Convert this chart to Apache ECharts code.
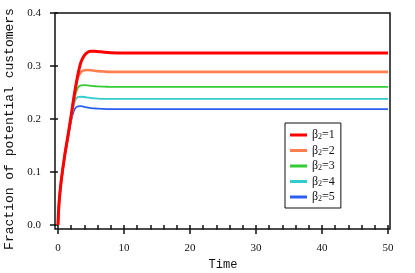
<!DOCTYPE html>
<html><head><meta charset="utf-8">
<script src="https://cdn.jsdelivr.net/npm/echarts@6/dist/echarts.min.js"></script>
<style>html,body{margin:0;padding:0;background:#fff}#c{width:415px;height:273px}</style>
</head><body><div id="c"></div>
<script>
const timeX = [0,0.1,0.25,0.5,1,1.5,2,2.5,3,3.5,4,4.5,5,5.5,6,7,8,10,15,20,30,40,50];
const beta1 = [0,0.03,0.055,0.085,0.13,0.168,0.207,0.248,0.283,0.308,0.320,0.326,0.328,0.328,0.3275,0.326,0.325,0.3245,0.3245,0.3245,0.3245,0.3245,0.3245];
const beta2 = [0,0.03,0.055,0.085,0.13,0.167,0.205,0.245,0.278,0.289,0.292,0.2925,0.292,0.291,0.2903,0.2895,0.289,0.289,0.289,0.289,0.289,0.289,0.289];
const beta3 = [0,0.029,0.054,0.084,0.129,0.166,0.203,0.240,0.259,0.2635,0.264,0.2635,0.2625,0.262,0.2615,0.261,0.2605,0.2605,0.2605,0.2605,0.2605,0.2605,0.2605];
const beta4 = [0,0.028,0.053,0.083,0.128,0.164,0.200,0.232,0.2415,0.242,0.2415,0.2405,0.2395,0.239,0.2385,0.238,0.2378,0.2378,0.2378,0.2378,0.2378,0.2378,0.2378];
const beta5 = [0,0.027,0.052,0.082,0.126,0.162,0.197,0.218,0.224,0.2243,0.223,0.2215,0.2205,0.22,0.2195,0.219,0.2185,0.2185,0.2185,0.2185,0.2185,0.2185,0.2185];
const seriesNames = ['β2=1','β2=2','β2=3','β2=4','β2=5'];
const seriesData = [beta1,beta2,beta3,beta4,beta5];
const colors = ['#ff0000','#ff7f4f','#33cc33','#33cccc','#2a5ff0'];
const widths = [3,2.6,1.8,1.8,1.8];

const chart = echarts.init(document.getElementById('c'));
const series = seriesData.map((d,i)=>({
  name: seriesNames[i], type:'line', xAxisIndex:0, yAxisIndex:0,
  data: timeX.map((x,j)=>[x,d[j]]), showSymbol:false, smooth:0.3,
  lineStyle:{color:colors[i], width:widths[i]}, itemStyle:{color:colors[i]},
  z: 10 - i
}));
chart.setOption({
  animation:false,
  grid:[
    {left:58, right:27, top:13, bottom:48, show:false, containLabel:false, outerBoundsMode:'none'},
    {left:55, top:13, width:335, height:216, show:true, borderColor:'#111', borderWidth:1.5, backgroundColor:'transparent', containLabel:false, outerBoundsMode:'none'}
  ],
  xAxis:[
    {type:'value', gridIndex:0, min:0, max:50, interval:10, offset:4,
     axisLine:{show:false},
     axisTick:{show:true, length:9, inside:false, lineStyle:{color:'#111', width:1.5}},
     minorTick:{show:true, splitNumber:5, length:4.5, lineStyle:{color:'#111', width:1.5}},
     splitLine:{show:false},
     axisLabel:{fontFamily:'Liberation Serif', fontSize:11, color:'#111', margin:14},
     name:'Time', nameLocation:'middle', nameGap:26,
     nameTextStyle:{fontFamily:'Liberation Mono', fontSize:12, color:'#111'}},
    {type:'value', gridIndex:1, show:false, min:0, max:1}
  ],
  yAxis:[
    {type:'value', gridIndex:0, min:0, max:0.4, interval:0.1, offset:3,
     axisLine:{show:false},
     axisTick:{show:true, length:8, lineStyle:{color:'#111', width:1.5}},
     splitLine:{show:false},
     axisLabel:{fontFamily:'Liberation Serif', fontSize:11, color:'#111', margin:14,
       formatter:v=>v.toFixed(1)},
     name:'Fraction of potential customers', nameLocation:'middle', nameGap:35,
     nameTextStyle:{fontFamily:'Liberation Mono', fontSize:13, color:'#111', padding:[0,20,0,0]}},
    {type:'value', gridIndex:1, show:false, min:0, max:1}
  ],
  legend:{
    orient:'vertical', left:285, top:123, padding:[6,6,5,5], itemGap:3.5,
    borderColor:'#111', borderWidth:1, backgroundColor:'#fff',
    icon:'rect', itemWidth:17, itemHeight:3,
    data: seriesNames,
    formatter: n => '{a|β}{s|2}{a|=' + n.split('=')[1] + '}',
    textStyle:{
      rich:{
        a:{fontFamily:'Liberation Serif', fontSize:12, color:'#111'},
        s:{fontFamily:'Liberation Serif', fontSize:8, color:'#111', verticalAlign:'bottom', padding:[4,0,0,0]}
      }
    }
  },
  series: series
});
</script></body></html>
